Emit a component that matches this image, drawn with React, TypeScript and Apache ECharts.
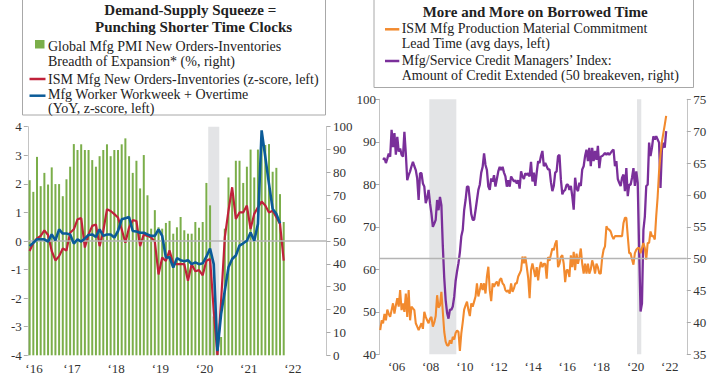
import React, { useEffect, useRef } from "react";
import * as echarts from "echarts";

const FONT = '"Liberation Serif", "Times New Roman", serif';

const LEFT_START_YEAR = 2016;
const pmiBreadth = [
  76.6, 71.5, 86.8, 74, 79.8, 74.7, 82.2, 74.9, 74.9, 69.6, 77, 82.5,
  92.4, 89.8, 92.3, 89.8, 89.8, 85.4, 82.5, 87.1, 89.8, 92.3, 87.1, 89.8,
  89.8, 92.3, 94.9, 87.1, 79.8, 85.1, 73, 87.6, 70, 55.4, 63.5, 56,
  55.4, 57.9, 58.8, 53.2, 56, 60.5, 54.7, 53.2, 53.2, 58.3, 55.8, 58.3,
  75.4, 65.6, 17, 2, 8, 55.4, 77.8, 69.6, 85.1, 85.1, 75.4, 82.5,
  90, 77.8, 90, 95, 92, 92.4, 80.3, 82, 70.5, 58.3,
];
const ismNewOrdersInv = [
  -0.35, -0.06, 0.09, 0.18, 0.37, 0.21, -0.35, -0.68, -0.53, -0.26, -0.33, 0.29,
  0.41, 0.76, 0.8, -0.23, 0.23, 0.53, 0.58, -0.18, 0.35, 1.11, 1.05, 0.94,
  0.82, 0.41, -0.06, 0.47, 0.73, 0.7, -0.18, 0.23, 0.18, 0.12, -0.02, -1.17,
  -0.58, -0.7, -0.33, -0.8, -0.81, -0.81, -0.81, -1.39, -0.81, -1.06, -1.02, -1.2,
  -0.69, -0.63, -2.44, -3.99, -2.09, 0.13, 1.06, 1.88, 0.77, 1.0, 1.0, 1.24,
  0.42, 0.95, 1.18, 1.38, 1.24, 1.0, 1.06, 0.83, 0.6, -0.69,
];
const workweekOvertime = [
  -0.18, -0.06, 0.06, 0.06, 0.06, -0.02, 0.23, 0.02, 0.41, 0.26, 0.26, 0.23,
  -0.09, 0.06, -0.02, 0.09, 0.21, 0.23, 0.14, 0.41, 0.18, 0.23, 0.23, 0.12,
  0.35, 0.76, 0.8, 0.84, 0.35, 0.33, 0.29, 0.29, 0.23, 0.18, 0.18, 0.41,
  0.18, -0.58, -0.57, -0.93, -0.6, -0.67, -0.71, -0.67, -0.81, -0.75, -0.81, -0.78,
  -0.55, -0.26, -0.81, -3.85, -2.56, -1.74, -0.92, -0.63, -0.51, -0.16, -0.08, 0.01,
  0.3, 0.01, 0.6, 3.87, 2.94, 2.0, 1.12, 0.95, 0.62,
];
const leftYearTicks = [2016, 2017, 2018, 2019, 2020, 2021, 2022];
const leftRecession = [2020 + 1 / 12, 2020 + 4 / 12];
const leftTitleLines = ["Demand-Supply Squeeze =", "Punching Shorter Time Clocks"];

const RIGHT_START_YEAR = 2005;
const leadTimeDays = [
  45.7, 48, 47.3, 49.5, 48, 50.5, 49.5, 48.8, 50.4, 52, 49.6, 51.5,
  53.2, 51.2, 55.1, 50.4, 52, 50, 54.3, 48.8, 55.1, 48, 51.2, 50.8,
  50.4, 47.3, 46.5, 45.7, 46.5, 47.3, 46, 50, 48.8, 48, 47.3, 48.4,
  48.8, 46.5, 47.5, 49, 53.9, 51, 51.5, 54.7, 50, 45.3, 43, 42.1,
  42.1, 43.3, 42.5, 44.1, 43.5, 45, 45.6, 45.3, 40.8, 44.9, 47.5, 50.5,
  51.5, 52.4, 50.4, 49, 52, 51.2, 52.4, 53.6, 56.7, 53.6, 55.1, 56.7,
  55.1, 56.7, 54.3, 58.3, 60.6, 55.1, 52.5, 56.7, 55.9, 56.7, 57.1, 56,
  57.5, 57.9, 56.7, 56.3, 55.1, 54.7, 55.1, 54.3, 56.7, 54.7, 55.5, 56.7,
  56.7, 58.3, 59, 59.8, 63, 61.4, 63, 60.6, 58, 53.2, 59.8, 61.4,
  59.8, 58.2, 60.5, 57.4, 60.2, 61.7, 60.5, 61.3, 61.3, 57.8, 62.9, 62,
  63.5, 64.9, 64.5, 66, 66.8, 60.5, 61.3, 62.9, 63.3, 61.3, 57, 59.8,
  59.8, 58.2, 63.3, 60.5, 64.1, 59.8, 63.7, 61.3, 62.9, 64.9, 61.3, 59,
  61.3, 59, 61.3, 59, 60, 62.1, 60.9, 59, 61.3, 60.5, 59, 59,
  62.7, 64.6, 65.4, 70.1, 69.5, 69.3, 68.9, 67.8, 67.1, 67.8, 67.8, 67.8,
  67.8, 67.8, 67.8, 70.9, 72.1, 72.1, 67.8, 63.8, 63.8, 62.3, 61.1, 63.8,
  64.6, 65, 65, 63.8, 65, 66.2, 65, 62.3, 66.2, 66.2, 68.9, 67.8,
  67.8, 67, 72.5, 77, 83, 87, 90, 92, 94, 96.1,
];
const CREDIT_START_MONTH = 2;
const creditExtended = [
  65.5, 65.8, 65, 65.7, 66.5, 66, 70.2, 67.5, 69.7, 66.3,
  69.1, 66.8, 67.3, 66.3, 66, 69.9, 66.5, 62.3, 63.1, 63.7, 64.5, 65.2,
  64.5, 63.9, 62.6, 59.2, 63.4, 63.4, 61.8, 61.3, 58.7, 59.5, 60.8, 58.7,
  57.1, 55, 55.5, 56.1, 59.2, 57.6, 59.7, 58.4, 52, 47, 43.5, 41.5,
  40.6, 42, 42, 42.5, 44, 46.5, 48, 49.3, 51, 53.5, 54.5, 57.6,
  59.2, 61.3, 61.3, 59.2, 57, 56.1, 56.1, 57.6, 59.2, 60.8, 61.6, 63.5,
  64.4, 66.5, 64.7, 63.9, 61.3, 60.8, 62.6, 62.1, 63.1, 61.3, 62.5, 63.7,
  64.4, 63.9, 64.4, 63.5, 62.9, 61.3, 62.3, 61.3, 62.9, 62.5, 62.1, 62.3,
  61.8, 62.3, 61, 63.7, 62.9, 62.5, 63.4, 63.1, 63.4, 62.9, 65.2, 62.1,
  63.5, 61.4, 63.5, 65.3, 65, 66.1, 66.9, 64.5, 65, 64.5, 64, 64,
  62, 60.6, 61.4, 63.5, 63.7, 66.1, 66.3, 62.4, 60.1, 60.6, 60.8, 61.6,
  61.6, 60.8, 61.4, 59.8, 57.7, 62.7, 61, 60.6, 61.9, 61.4, 64, 64.5,
  66.1, 67.1, 65.3, 67.4, 64.5, 67.4, 65.3, 66.9, 65.5, 67.7, 64.2, 66,
  66.1, 66.3, 66.6, 66.3, 66.6, 66.3, 66.6, 66.9, 67.1, 64.5, 65.3, 62.5,
  61.9, 61.4, 62.7, 63.2, 60.6, 64.2, 59.8, 61.6, 61.6, 62.7, 64.2, 61.4,
  63.7, 61.9, 51.4, 41.7, 43, 54.5, 56.6, 61.4, 61.6, 68.2, 66.1, 67.4,
  69.2, 68.7, 69.2, 68.7, 68.2, 61.1, 67.1, 68.2, 67.4, 70,
];
const rightYearTicks = [2006, 2008, 2010, 2012, 2014, 2016, 2018, 2020, 2022];
const rightRecessions = [
  [2007 + 11 / 12, 2009.5],
  [2020 + 1 / 12, 2020 + 4 / 12],
];
const rightTitle = "More and More on Borrowed Time";

const toPoints = (startYear: number, startMonth: number, vals: number[]) =>
  vals.map((v, i) => [startYear + (startMonth + i + 0.5) / 12, v]);

const yearLabel = (v: number) => "\u2018" + String(Math.floor(v + 0.001)).slice(2);

const AXIS_GREY = "#c4c4c4";
const LABEL_COLOR = "#333";

const yAxisBase = (gridIndex: number, min: number, max: number, interval: number, position: string, margin: number) => ({
  type: "value",
  gridIndex,
  min,
  max,
  interval,
  position,
  axisLine: { show: true, onZero: false, lineStyle: { color: AXIS_GREY, width: 1 } },
  axisTick: { show: true, length: 4, lineStyle: { color: "#aaa" } },
  splitLine: { show: false },
  axisLabel: { color: LABEL_COLOR, fontSize: 13, fontFamily: FONT, margin },
});

const txt = (x: number, y: number, text: string, bold = false) => ({
  type: "text",
  x,
  y,
  z: 100,
  style: {
    text,
    fill: "#222",
    fontSize: bold ? 15 : 14,
    fontWeight: bold ? "bold" : "normal",
    fontFamily: FONT,
    textAlign: "left",
    textVerticalAlign: "middle",
  },
});

export default function App() {
  const ref = useRef<HTMLDivElement>(null);
  useEffect(() => {
    if (!ref.current) return;
    const chart = echarts.init(ref.current, undefined, { renderer: "svg" });

    const option: any = {
      animation: false,
      textStyle: { fontFamily: FONT },
      grid: [
        { left: 27.8, top: 126.7, width: 298.7, height: 228.6 },
        { left: 379.5, top: 99.3, width: 307.3, height: 255 },
      ],
      xAxis: [
        {
          type: "value",
          gridIndex: 0,
          min: 2016,
          max: 2022.76,
          axisLine: { show: false, onZero: false },
          axisTick: { show: false },
          splitLine: { show: false },
          axisLabel: {
            customValues: leftYearTicks.map((y, i) => (i === 0 ? y + 0.14 : y)),
            formatter: yearLabel,
            color: LABEL_COLOR,
            fontSize: 13,
            fontFamily: FONT,
            margin: 7,
          },
        },
        {
          type: "value",
          gridIndex: 1,
          min: 2005,
          max: 2023,
          axisLine: { show: false, onZero: false },
          axisTick: { show: false },
          splitLine: { show: false },
          axisLabel: {
            customValues: rightYearTicks,
            formatter: yearLabel,
            color: LABEL_COLOR,
            fontSize: 13,
            fontFamily: FONT,
            margin: 6,
          },
        },
      ],
      yAxis: [
        yAxisBase(0, -4, 4, 1, "left", 6),
        yAxisBase(0, 0, 100, 10, "right", 6.5),
        yAxisBase(1, 40, 100, 10, "left", 3.5),
        yAxisBase(1, 35, 75, 5, "right", 6.5),
      ],
      series: [
        {
          type: "line",
          xAxisIndex: 0,
          yAxisIndex: 1,
          data: [],
          z: 1,
          silent: true,
          markArea: {
            silent: true,
            label: { show: false },
            itemStyle: { color: "#e3e4e6" },
            data: [[{ xAxis: leftRecession[0] }, { xAxis: leftRecession[1] }]],
          },
        },
        {
          type: "bar",
          xAxisIndex: 0,
          yAxisIndex: 1,
          data: toPoints(LEFT_START_YEAR, 0, pmiBreadth),
          barWidth: 2,
          itemStyle: { color: "#7bae4a" },
          z: 2,
        },
        {
          type: "line",
          xAxisIndex: 0,
          yAxisIndex: 0,
          data: [],
          z: 3,
          silent: true,
          markLine: {
            silent: true,
            symbol: ["none", "none"],
            label: { show: false },
            lineStyle: { color: "#b4b4b4", width: 1.5, type: "solid" },
            data: [{ yAxis: 0 }],
          },
        },
        {
          type: "line",
          xAxisIndex: 0,
          yAxisIndex: 0,
          data: toPoints(LEFT_START_YEAR, 0, ismNewOrdersInv),
          showSymbol: false,
          symbol: "none",
          lineStyle: { color: "#c0213a", width: 2.2 },
          z: 4,
        },
        {
          type: "line",
          xAxisIndex: 0,
          yAxisIndex: 0,
          data: toPoints(LEFT_START_YEAR, 0, workweekOvertime),
          showSymbol: false,
          symbol: "none",
          lineStyle: { color: "#0b5b98", width: 2.6 },
          z: 5,
        },
        {
          type: "line",
          xAxisIndex: 1,
          yAxisIndex: 2,
          data: [],
          z: 1,
          silent: true,
          markArea: {
            silent: true,
            label: { show: false },
            itemStyle: { color: "#e3e4e6" },
            data: rightRecessions.map((r) => [{ xAxis: r[0] }, { xAxis: r[1] }]),
          },
        },
        {
          type: "line",
          xAxisIndex: 1,
          yAxisIndex: 3,
          data: [],
          z: 2,
          silent: true,
          markLine: {
            silent: true,
            symbol: ["none", "none"],
            label: { show: false },
            lineStyle: { color: "#b4b4b4", width: 1.3, type: "solid" },
            data: [{ yAxis: 50 }],
          },
        },
        {
          type: "line",
          xAxisIndex: 1,
          yAxisIndex: 3,
          data: toPoints(RIGHT_START_YEAR, CREDIT_START_MONTH, creditExtended),
          showSymbol: false,
          symbol: "none",
          lineStyle: { color: "#7a2f9a", width: 2.3 },
          z: 3,
        },
        {
          type: "line",
          xAxisIndex: 1,
          yAxisIndex: 2,
          data: toPoints(RIGHT_START_YEAR, 0, leadTimeDays),
          showSymbol: false,
          symbol: "none",
          lineStyle: { color: "#f28a2e", width: 2.1 },
          z: 4,
        },
      ],
      graphic: [
        {
          type: "rect",
          z: 0,
          shape: { x: 22.5, y: -1, width: 303, height: 116 },
          style: { fill: "#fff", stroke: "#a8a8a8", lineWidth: 1 },
        },
        txt(104.3, 10, leftTitleLines[0], true),
        txt(95, 26.5, leftTitleLines[1], true),
        {
          type: "rect",
          z: 100,
          shape: { x: 35, y: 40, width: 9.5, height: 8.5 },
          style: { fill: "#7bae4a" },
        },
        txt(48, 46, "Global Mfg PMI New Orders-Inventories"),
        txt(48, 61, "Breadth of Expansion* (%, right)"),
        {
          type: "line",
          z: 100,
          shape: { x1: 29.5, y1: 79, x2: 45.5, y2: 79 },
          style: { stroke: "#c0213a", lineWidth: 2.5 },
        },
        txt(48, 79.5, "ISM Mfg New Orders-Inventories (z-score, left)"),
        {
          type: "line",
          z: 100,
          shape: { x1: 29.5, y1: 95.7, x2: 45.5, y2: 95.7 },
          style: { stroke: "#0b5b98", lineWidth: 2.5 },
        },
        txt(48, 94, "Mfg Worker Workweek + Overtime"),
        txt(48, 108.2, "(YoY, z-score, left)"),
        {
          type: "rect",
          z: 0,
          shape: { x: 374, y: -1, width: 319.5, height: 88.5 },
          style: { fill: "#fff", stroke: "#a8a8a8", lineWidth: 1 },
        },
        txt(422.7, 11.5, rightTitle, true),
        {
          type: "line",
          z: 100,
          shape: { x1: 385, y1: 29.3, x2: 399.3, y2: 29.3 },
          style: { stroke: "#f28a2e", lineWidth: 2.5 },
        },
        txt(401.7, 28.5, "ISM Mfg Production Material Commitment"),
        txt(401.7, 43, "Lead Time (avg days, left)"),
        {
          type: "line",
          z: 100,
          shape: { x1: 385, y1: 61, x2: 399.3, y2: 61 },
          style: { stroke: "#7a2f9a", lineWidth: 2.5 },
        },
        txt(401.7, 60.3, "Mfg/Service Credit Managers\u2019 Index:"),
        txt(401.7, 75.5, "Amount of Credit Extended (50 breakeven, right)"),
      ],
    };

    chart.setOption(option);
    return () => chart.dispose();
  }, []);

  return (
    <div
      ref={ref}
      style={{ position: "absolute", left: 0, top: 0, width: 720, height: 380, background: "#fff" }}
    />
  );
}
